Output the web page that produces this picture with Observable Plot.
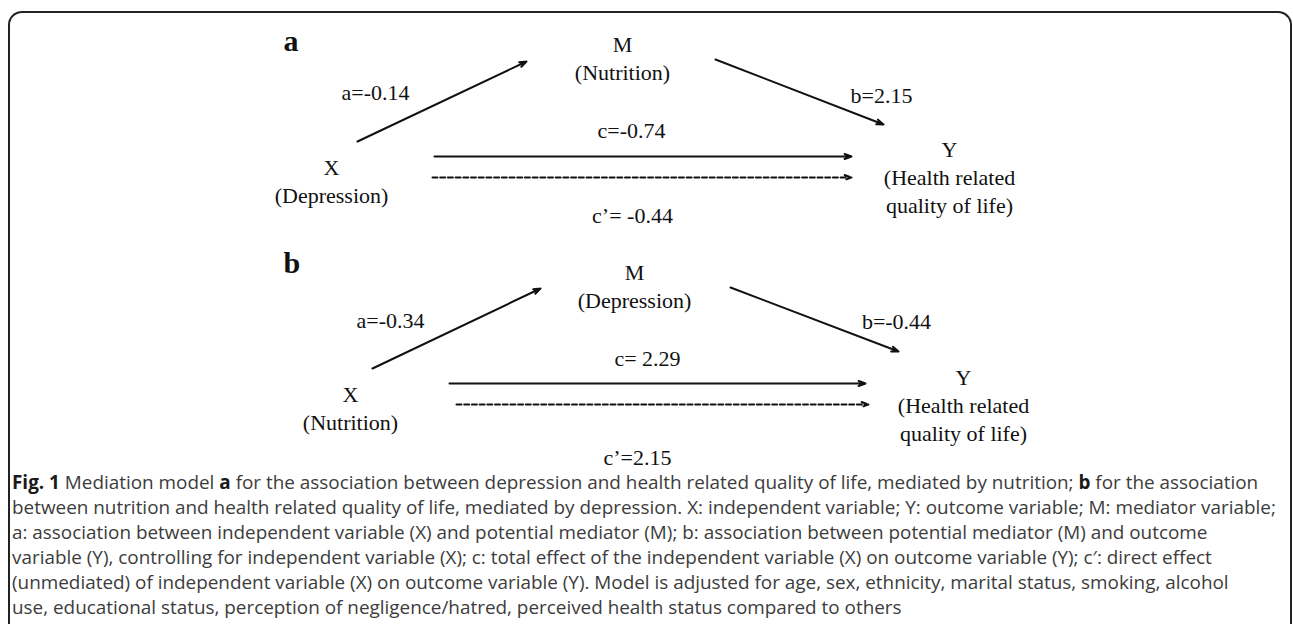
<!DOCTYPE html>
<html><head><meta charset="utf-8">
<script src="https://cdn.jsdelivr.net/npm/d3@7"></script>
<script src="https://cdn.jsdelivr.net/npm/@observablehq/plot@0.6"></script>
<style>
html,body{margin:0;padding:0;background:#fff;width:1293px;height:624px;overflow:hidden;}
#frame{position:absolute;left:8px;top:11px;width:1284px;height:640px;border:2px solid #222;border-bottom:none;border-radius:14px 14px 0 0;box-sizing:border-box;}
#chart{position:absolute;left:0;top:0;}
#caption{position:absolute;left:12px;top:470px;font-family:"Open Sans";font-size:18.9px;line-height:25px;color:#3c3c3c;white-space:nowrap;}
#caption b{color:#1a1a1a;}
</style></head>
<body><div id="frame"></div><div id="chart"></div><div id="caption"></div>
<script>
// ---- content of the two mediation models ----
const panels = ["a", "b"];
const predictor = ["Depression", "Nutrition"];
const mediator = ["Nutrition", "Depression"];
const outcome = "Health related\nquality of life";
const pathA = ["a=-0.14", "a=-0.34"];
const pathB = ["b=2.15", "b=-0.44"];
const pathC = ["c=-0.74", "c= 2.29"];
const pathCp = ["c’= -0.44", "c’=2.15"];

// ---- diagram layout (diagram units), per panel ----
const tagPos = [[283, 50], [283, 272]];
const xNodePos = [[331, 170], [350, 397]];
const mNodePos = [[622, 47], [634, 275]];
const yNodePos = [[949, 152], [963, 380]];
const labAPos = [[375, 99], [390, 327]];
const labBPos = [[881, 102], [896, 328]];
const labCPos = [[631, 137], [647, 365]];
const labCpPos = [[632, 222], [637, 464]];
const arrowAPos = [[357, 141, 526, 61], [372, 368, 540, 288]];
const arrowBPos = [[715, 59, 883, 124], [730, 287, 898, 351]];
const lineCPos = [[434, 156, 851, 156], [449, 383, 865, 383]];
const lineCpPos = [[432, 177, 851, 177], [456, 404, 868, 404]];

// ---- caption ----
const captionLines = [
  [["Fig. 1", true], [" Mediation model ", false], ["a", true], [" for the association between depression and health related quality of life, mediated by nutrition; ", false], ["b", true], [" for the association", false]],
  [["between nutrition and health related quality of life, mediated by depression. X: independent variable; Y: outcome variable; M: mediator variable;", false]],
  [["a: association between independent variable (X) and potential mediator (M); b: association between potential mediator (M) and outcome", false]],
  [["variable (Y), controlling for independent variable (X); c: total effect of the independent variable (X) on outcome variable (Y); c′: direct effect", false]],
  [["(unmediated) of independent variable (X) on outcome variable (Y). Model is adjusted for age, sex, ethnicity, marital status, smoking, alcohol", false]],
  [["use, educational status, perception of negligence/hatred, perceived health status compared to others", false]]
];

// ---- build tables ----
const nodes = [], labels = [], tags = [], solid = [], dashed = [];
panels.forEach((p, i) => {
  tags.push({x: tagPos[i][0], y: tagPos[i][1], text: p});
  nodes.push({x: xNodePos[i][0], y: xNodePos[i][1], text: "X\n(" + predictor[i] + ")"});
  nodes.push({x: mNodePos[i][0], y: mNodePos[i][1], text: "M\n(" + mediator[i] + ")"});
  nodes.push({x: yNodePos[i][0], y: yNodePos[i][1], text: "Y\n(" + outcome + ")"});
  labels.push({x: labAPos[i][0], y: labAPos[i][1], text: pathA[i]});
  labels.push({x: labBPos[i][0], y: labBPos[i][1], text: pathB[i]});
  labels.push({x: labCPos[i][0], y: labCPos[i][1], text: pathC[i]});
  labels.push({x: labCpPos[i][0], y: labCpPos[i][1], text: pathCp[i]});
  for (const a of [arrowAPos[i], arrowBPos[i], lineCPos[i]]) solid.push({x1: a[0], y1: a[1], x2: a[2], y2: a[3]});
  const d = lineCpPos[i];
  dashed.push({x1: d[0], y1: d[1], x2: d[2], y2: d[3]});
});

const W = 1293, H = 470, FS = 22, TFS = 30;
const serif = "'Liberation Serif', 'Times New Roman', serif";
const chart = Plot.plot({
  width: W, height: H, margin: 0,
  x: {domain: [0, W], axis: null},
  y: {domain: [0, H], reverse: true, axis: null},
  style: {background: "transparent"},
  marks: [
    Plot.arrow(solid, {x1: "x1", y1: "y1", x2: "x2", y2: "y2", stroke: "#111", strokeWidth: 2, headLength: 5.5, headAngle: 40}),
    Plot.arrow(dashed, {x1: "x1", y1: "y1", x2: "x2", y2: "y2", stroke: "#111", strokeWidth: 2, headLength: 5.5, headAngle: 40, strokeDasharray: "5,2.7"}),
    Plot.text(nodes, {x: "x", y: "y", text: "text", lineAnchor: "top", dy: -0.71 * FS, lineHeight: 1.27, fontSize: FS, fontFamily: serif, fill: "#111"}),
    Plot.text(labels, {x: "x", y: "y", text: "text", lineAnchor: "top", dy: -0.71 * FS, fontSize: FS, fontFamily: serif, fill: "#111"}),
    Plot.text(tags, {x: "x", y: "y", text: "text", lineAnchor: "top", dy: -0.71 * TFS, textAnchor: "start", fontSize: TFS, fontWeight: "bold", fontFamily: serif, fill: "#111"})
  ]
});
document.getElementById("chart").appendChild(chart);

const cap = document.getElementById("caption");
for (const line of captionLines) {
  const div = document.createElement("div");
  for (const [t, bold] of line) {
    const el = document.createElement(bold ? "b" : "span");
    el.textContent = t;
    div.appendChild(el);
  }
  cap.appendChild(div);
}
</script>
</body></html>
